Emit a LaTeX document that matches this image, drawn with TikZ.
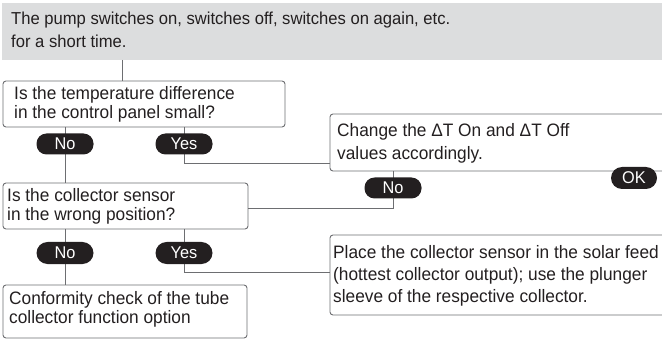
\documentclass[tikz,border=0pt]{standalone}
\usepackage{fontspec}
\setmainfont{Liberation Sans}[FakeStretch=0.96]
\definecolor{ink}{HTML}{231F20}
\definecolor{ln}{HTML}{6D6E71}
\definecolor{bg}{HTML}{DCDDDE}
\tikzset{
  box/.style={draw=ln, line width=0.9pt, rounded corners=3pt, inner sep=0pt},
  txt/.style={anchor=north west, inner sep=0pt, align=left, text=ink,
    font=\fontsize{18}{#1}\selectfont},
  txt/.default=23,
  pill/.style={fill=ink, text=white, rounded corners=10pt, minimum height=21pt,
    minimum width=57pt, inner sep=0pt, font=\fontsize{17}{17}\selectfont},
  conn/.style={draw=ln, line width=0.9pt}
}
\begin{document}
\begin{tikzpicture}[x=1pt,y=-1pt]
\clip (0,0) rectangle (662,342);
% boxes
\path[fill=bg] (1.5,3) rectangle (690,60);
\coordinate (topb) at (122,60);
\draw[box] (3,81) rectangle (285,127);
\coordinate (b1n) at (122,81);
\draw[box] (3,183) rectangle (248,229);
\coordinate (b2e) at (248,208);
\draw[box] (3,285) rectangle (247,338);
\draw[box] (330,114) rectangle (690,171);
\draw[box] (330,235) rectangle (690,315);
% texts
\node[txt=23, font=\fontsize{17.3}{23}\selectfont] (t0) at (11,{24-16.1}) {\strut The pump switches on, switches off, switches on again, etc.\\for a short time.};
\node[txt=19.5] (t1) at (14,{99-13.65}) {\strut Is the temperature difference\\in the control panel small?};
\node[txt=19.5] (t2) at (7,{201-13.65}) {\strut Is the collector sensor\\in the wrong position?};
\node[txt=19] (t3) at (9,{304-13.3}) {\strut Conformity check of the tube\\collector function option};
\node[txt=23] (t4) at (337,{136-16.1}) {\strut Change the ΔT On and ΔT Off\\values accordingly.};
\node[txt=22] (t5) at (333,{258-15.4}) {\strut Place the collector sensor in the solar feed\\(hottest collector output); use the plunger\\sleeve of the respective collector.};
% connectors
\coordinate (c1) at (330,163);
\coordinate (c2) at (330,272);
\draw[conn] (topb) -- (b1n);
\draw[conn] (65,127) coordinate (n1a) -- (65,183) coordinate (n1b);
\draw[conn] (184,127) coordinate (y1a) |- (c1);
\draw[conn] (393,171) coordinate (n2a) |- (b2e);
\draw[conn] (65,229) coordinate (n3a) -- (65,285) coordinate (n3b);
\draw[conn] (184,229) coordinate (y3a) |- (c2);
% pills
\node[pill] (no1) at (65,144) {No};
\node[pill] (yes1) at (184,144) {Yes};
\node[pill] (no2) at (393,188) {No};
\node[pill, minimum width=46pt, minimum height=22pt, rounded corners=11pt] (ok) at (634,178) {OK};
\node[pill, minimum height=22pt, rounded corners=11pt] (no3) at (65,253) {No};
\node[pill, minimum height=22pt, rounded corners=11pt] (yes3) at (184,253) {Yes};
\end{tikzpicture}
\end{document}
